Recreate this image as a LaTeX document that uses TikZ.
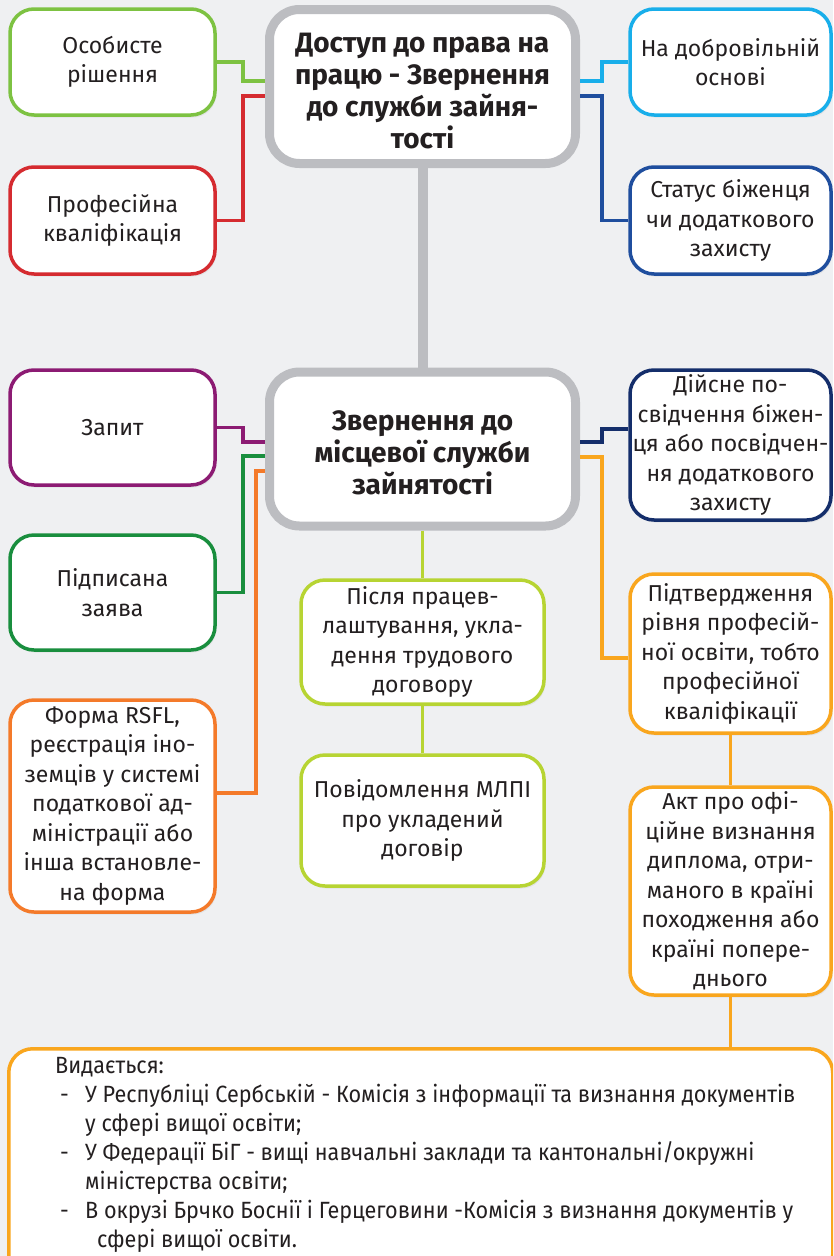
\documentclass[tikz,border=0pt]{standalone}
\usepackage{fontspec}
\setmainfont{Fira Sans}
\newfontfamily\condfont[FakeStretch=0.92]{Fira Sans}
\usetikzlibrary{shadows}
\definecolor{bgcol}{HTML}{EFF0F2}
\definecolor{ink}{HTML}{231F20}
\definecolor{framegray}{HTML}{BCBDC1}
\definecolor{osobgreen}{HTML}{7DC242}
\definecolor{profred}{HTML}{D52B30}
\definecolor{dobrocyan}{HTML}{18AEEA}
\definecolor{statusblue}{HTML}{1F4E9E}
\definecolor{zapytpurple}{HTML}{8C1B73}
\definecolor{pidpgreen}{HTML}{198E3E}
\definecolor{formaorange}{HTML}{F47A2A}
\definecolor{limegreen}{HTML}{B7D433}
\definecolor{diysnenavy}{HTML}{142E6B}
\definecolor{amber}{HTML}{F9A61E}
\newcommand{\headstrut}{\rule{0pt}{28pt}}

\begin{document}
\begin{tikzpicture}
                [x=1pt, y=-1pt,
                    box/.style={draw, line width=3.5pt, fill=white, rounded corners=24pt,
                        align=center, text=ink, inner sep=0pt,
                        font=\fontsize{23}{29.5}\selectfont,
                        drop shadow={opacity=0.12, shadow xshift=1.5pt, shadow yshift=-2.5pt}},
                    head/.style={box, draw=framegray, line width=9pt, rounded corners=30pt,
                        font=\bfseries\fontsize{28}{32}\selectfont,
                        minimum width=306pt, minimum height=154pt},
                    leftbox/.style={box, minimum width=205pt},
                    rightbox/.style={box, minimum width=201pt},
                    midbox/.style={box, draw=limegreen, minimum width=243pt},
                    link/.style={line width=3.5pt},
                ]
                \useasboundingbox (0,0) rectangle (833,1256);
                \clip (0,0) rectangle (833,1256);
                \fill[bgcol] (0,0) rectangle (833,1256);
                \node[head] (top) at (422.5,86.5)
                    {\headstrut Доступ до права на\\працю - Звернення\\до служби зайня-\\тості};
                \node[head] (mid) at (422.5,449)
                    {\headstrut Звернення до\\місцевої служби\\зайнятості};
                \node[leftbox, draw=osobgreen, minimum height=106pt] (osob) at (112.5,62)
                    {Особисте\\рішення};
                \node[leftbox, draw=profred, minimum height=107pt] (prof) at (112.5,220.5)
                    {Професійна\\кваліфікація};
                \node[leftbox, draw=zapytpurple, minimum height=115pt] (zapyt) at (112.5,427.5)
                    {Запит};
                \node[leftbox, draw=pidpgreen, minimum height=115pt] (pidp) at (112.5,592.5)
                    {Підписана\\заява};
                \node[leftbox, draw=formaorange, minimum height=212pt] (forma) at (112.5,806)
                    {Форма RSFL,\\реєстрація іно-\\земців у системі\\податкової ад-\\міністрації або\\інша встановле-\\на форма};
                \node[rightbox, draw=dobrocyan, minimum height=106pt] (dobro) at (730.5,62)
                    {На добровільній\\основі};
                \node[rightbox, draw=statusblue, minimum height=107pt] (status) at (730.5,220.5)
                    {Статус біженця\\чи додаткового\\захисту};
                \node[rightbox, draw=diysnenavy, minimum height=150pt] (diysne) at (730.5,445)
                    {Дійсне по-\\свідчення біжен-\\ця або посвідчен-\\ня додаткового\\захисту};
                \node[rightbox, draw=amber, minimum height=159pt] (pidtv) at (730.5,653.5)
                    {Підтвердження\\рівня професій-\\ної освіти, тобто\\професійної\\кваліфікації};
                \node[rightbox, draw=amber, minimum height=208pt] (akt) at (730.5,891)
                    {Акт про офі-\\ційне визнання\\диплома, отри-\\маного в країні\\походження або\\країні попере-\\днього};
                \node[midbox, minimum height=124pt] (pislia) at (422.5,642)
                    {Після працев-\\лаштування, укла-\\дення трудового\\договору};
                \node[midbox, minimum height=131pt] (povid) at (422.5,820.5)
                    {Повідомлення МЛПІ\\про укладений\\договір};
                \node[box, draw=amber, anchor=north west, minimum width=824pt, minimum height=230pt] (issued) at (7,1047) {};
                \node[anchor=north west, align=left, inner sep=0pt, text=ink,
                    font=\condfont\fontsize{23.5}{29}\selectfont] (issuedtext) at (55,1057)
                    {Видається:\\
                    \hspace*{5pt}\makebox[25pt][l]{-}У Республіці Сербській - Комісія з інформації та визнання документів\\
                    \hspace*{30pt}у сфері вищої освіти;\\
                    \hspace*{5pt}\makebox[25pt][l]{-}У Федерації БіГ - вищі навчальні заклади та кантональні/окружні\\
                    \hspace*{30pt}міністерства освіти;\\
                    \hspace*{5pt}\makebox[25pt][l]{-}В окрузі Брчко Боснії і Герцеговини -Комісія з визнання документів у\\
                    \hspace*{42pt}сфері вищої освіти.};
                \draw[link, osobgreen] (osob.east) -| (243,81) -- (top.west |- 0,81);
                \draw[link, profred] (prof.east) -| (243,96) -- (top.west |- 0,96);
                \draw[link, dobrocyan] (dobro.west) -| (602,81) -- (top.east |- 0,81);
                \draw[link, statusblue] (status.west) -| (602,96) -- (top.east |- 0,96);
                \draw[line width=10pt, framegray] (top.south) -- (mid.north);
                \draw[link, zapytpurple] (zapyt.east) -| (243,442) -- (mid.west |- 0,442);
                \draw[link, pidpgreen] (pidp.east) -| (243,456) -- (mid.west |- 0,456);
                \draw[link, formaorange] (forma.east |- 0,793) -| (256,471) -- (mid.west |- 0,471);
                \draw[link, diysnenavy] (diysne.west |- 0,429) -| (602,442) -- (mid.east |- 0,442);
                \draw[link, amber] (pidtv.west |- 0,658) -| (602,457) -- (mid.east |- 0,457);
                \draw[line width=3pt, limegreen] (mid.south) -- (pislia.north);
                \draw[line width=3pt, limegreen] (pislia.south) -- (povid.north);
                \draw[link, amber] (pidtv.south) -- (akt.north);
                \draw[link, amber] (akt.south) -- (akt.south |- issued.north);
            \end{tikzpicture}
\end{document}
